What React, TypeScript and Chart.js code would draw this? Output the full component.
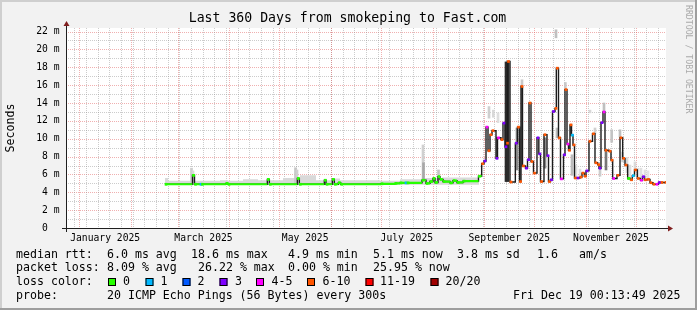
import React, { useEffect, useRef } from 'react';
import { Chart, registerables } from 'chart.js';

Chart.register(...registerables);

// ---------- data ----------
const START = Date.UTC(2024, 11, 24, 0, 13, 49);
const DAY = 86400000;
const SPAN_DAYS = 360;
const Y_MAX = 22.4;

const lossColors = ['#26ff00', '#00b8ff', '#0059ff', '#7e00ff', '#ff00ff', '#ff5500', '#ff0000', '#a10000'];
const lossLabels = ['0', '1', '2', '3', '4-5', '6-10', '11-19', '20/20'];

// median RTT (days since graph start, milliseconds, loss bucket index)
const medianDay = [
  59.4, 75.9, 77.1, 80.4, 81.3, 96, 97.2, 120.8, 122, 138.8, 140, 155, 156, 159.8, 161, 163.4, 164.8,
  189, 197.4, 200.4, 203.4, 204.6, 213.6, 216, 218.4, 220.2, 221.4, 223.2, 224.4, 226.2, 230.4, 232.2,
  234.6, 238.2, 247.5,
  249.4, 250.8, 252, 253.2, 254.4, 255.6, 258, 258.9, 261, 262.2, 263.4, 264.3, 264.9, 266.4, 269.6,
  270.9, 272.1, 273, 273.9, 275.7, 276.9, 277.8, 279, 280.5, 282.6, 283.7, 284.7, 286.8, 288.6, 289.5,
  290.7, 291.9, 293.4, 294.2, 295.5, 296.7, 298.5, 299.4, 300.6, 301.5, 302.4, 303.3, 304.2, 305.1,
  306.6, 308.4, 309.6, 311, 312, 313.8, 315.9, 317.4, 319, 319.8, 321, 322.2, 323.4, 325.8, 327, 328,
  330.6, 332.4, 334, 335.4, 337, 338.7, 339.8, 341.1, 342.8, 344.7, 345.9, 347.1, 348.9, 350.4, 352.2,
  354, 355.5, 357, 359.4,
];
const medianMs = [
  4.9, 5.9, 4.9, 4.9, 4.9, 5.0, 4.9, 5.45, 4.9, 5.55, 4.9, 5.35, 4.9, 5.45, 4.9, 5.07, 4.9,
  4.95, 5.0, 5.05, 5.05, 5.05, 5.35, 5.0, 5.2, 5.55, 5.1, 5.75, 5.45, 5.2, 5.05, 5.3,
  5.1, 5.25, 5.8,
  7.2, 7.5, 11.3, 8.65, 10.45, 10.9, 7.8, 10.1, 9.9, 11.75, 9.1, 9.5, 18.65, 5.15, 9.5,
  11.3, 5.2, 15.85, 6.95, 6.7, 7.65, 14.0, 7.45, 6.15, 10.1, 8.3, 5.2, 10.45, 8.1, 5.2,
  5.4, 13.05, 13.4, 17.9, 10.1, 5.5, 8.2, 15.5, 9.4, 8.7, 11.55, 10.4, 9.3, 5.6,
  5.6, 5.7, 6.15, 5.8, 6.4, 9.7, 10.55, 7.3, 7.1, 6.7, 11.8, 13.0, 8.7, 8.6, 7.6, 5.55,
  5.9, 10.1, 7.8, 7.05, 5.55, 5.4, 5.85, 6.5, 5.55, 5.35, 5.75, 5.4, 5.45, 5.07, 4.9,
  4.9, 5.1, 5.1, 5.1,
];
const medianLoss = [
  0, 0, 0, 1, 0, 0, 0, 0, 0, 0, 0, 0, 0, 0, 0, 0, 0,
  0, 0, 0, 1, 0, 0, 0, 0, 0, 0, 0, 0, 0, 0, 0,
  0, 0, 0,
  5, 3, 4, 5, 5, 5, 3, 4, 5, 3, 3, 5, 5, 5, 3,
  5, 5, 5, 5, 3, 3, 5, 5, 5, 3, 3, 5, 5, 3, 5,
  3, 3, 5, 5, 5, 4, 3, 5, 4, 5, 5, 1, 5, 5,
  3, 5, 5, 5, 3, 5, 5, 5, 5, 3, 3, 4, 5, 5, 5, 4,
  5, 5, 5, 5, 0, 5, 1, 5, 5, 4, 3, 5, 5, 5, 5,
  4, 3, 5, 5,
];

// light smoke band above the quiet period
const bandFloor = 4.85;
const bandDay = [59.4, 61.2, 92.4, 97.2, 106.2, 115.2, 130.2, 137.4, 140.4, 150, 159.6, 164.4, 188.4, 200.4, 215.4, 225.6, 247.8];
const bandHigh = [5.6, 5.3, 5.35, 5.3, 5.45, 5.35, 5.6, 5.4, 5.9, 5.35, 5.55, 5.35, 5.3, 5.45, 5.6, 5.65, 5.65];

// smoke spikes (day, low ms, high ms, grey shade)
const smokeDay = [
  75.3, 76.2, 137.7, 138.6, 214.2, 214.5, 223.5,
  253.8, 256.4, 259.2, 264.0, 265.2, 270.6, 273.6, 287.4, 294.0, 294.6, 299.6, 303.6, 306, 308.4,
  314.4, 317.4, 320.4, 322.8, 324, 327.4, 332.4, 334, 336.6, 338.4, 341.4, 343.2, 345, 347.4, 349.2,
];
const smokeLow = [
  5.0, 5.0, 5.0, 5.0, 5.3, 5.3, 5.4,
  12.3, 12.4, 11.8, 5.2, 5.2, 6.5, 16.0, 6.7, 21.3, 10.1, 15.5, 5.9, 5.7, 5.7,
  12.9, 10.6, 5.8, 13.0, 6.5, 9.6, 10.2, 7.4, 6.2, 5.6, 6.5, 5.6, 5.6, 5.6, 5.5,
];
const smokeHigh = [
  6.7, 6.4, 6.75, 6.5, 9.3, 7.3, 6.5,
  13.6, 13.2, 12.9, 18.6, 18.6, 11.2, 16.6, 10.1, 22.2, 11.2, 16.3, 8.2, 7.0, 6.6,
  13.2, 11.2, 6.9, 14.0, 8.7, 11.0, 11.0, 8.5, 7.9, 7.05, 7.4, 6.7, 6.7, 6.5, 6.4,
];
const smokeGrey = [
  '#cdcdcd', '#d8d8d8', '#c6c6c6', '#cfcfcf', '#d0d0d0', '#a8a8a8', '#c4c4c4',
  '#cfcfcf', '#d8d8d8', '#dedede', '#2b2b2b', '#2b2b2b', '#8a8a8a', '#c8c8c8', '#8c8c8c', '#c0c0c0', '#bdbdbd', '#c8c8c8', '#bcbcbc', '#dddddd', '#e0e0e0',
  '#d8d8d8', '#d0d0d0', '#cccccc', '#c0c0c0', '#777777', '#c4c4c4', '#c0c0c0', '#cccccc', '#dadada', '#dedede', '#dadada', '#e0e0e0', '#e0e0e0', '#e0e0e0', '#e4e4e4',
];

const yTickValues = [0, 2, 4, 6, 8, 10, 12, 14, 16, 18, 20, 22];
const yTickLabels = ['0  ', '2 m', '4 m', '6 m', '8 m', '10 m', '12 m', '14 m', '16 m', '18 m', '20 m', '22 m'];
const xLabelMonths = [0, 2, 4, 6, 8, 10];
const xLabels = ['January 2025', 'March 2025', 'May 2025', 'July 2025', 'September 2025', 'November 2025'];

const title = 'Last 360 Days from smokeping to Fast.com';
const yTitle = 'Seconds';
const watermark = 'RRDTOOL / TOBI OETIKER';

const legendRows: [string, number][][] = [
  [['median rtt:', 16], ['6.0 ms avg', 107], ['18.6 ms max', 191], ['4.9 ms min', 288], ['5.1 ms now', 373], ['3.8 ms sd', 457], ['1.6', 537], ['am/s', 579]],
  [['packet loss:', 16], ['8.09 % avg', 107], ['26.22 % max', 198], ['0.00 % min', 288], ['25.95 % now', 373]],
  [['loss color:', 16]],
  [['probe:', 16], ['20 ICMP Echo Pings (56 Bytes) every 300s', 107], ['Fri Dec 19 00:13:49 2025', 513]],
];
const legendRowY = [254.5, 268, 282, 296];
const lossBoxX = [108, 145.5, 182.5, 219.5, 256, 307, 365.5, 430.5];
const lossTextX = [123, 160.5, 197.5, 235, 271.5, 322.5, 380, 445.5];

// ---------- helpers ----------
const dayOf = (ms: number) => (ms - START) / DAY;
const monthStartDays: number[] = [];
for (let m = 0; m < 12; m++) monthStartDays.push(dayOf(Date.UTC(2025, m, 1)));
const weekDays: number[] = [];
for (let d = dayOf(Date.UTC(2024, 11, 29)); d < SPAN_DAYS; d += 7) weekDays.push(d);
const xLabelDays = xLabelMonths.map((m) => (dayOf(Date.UTC(2025, m, 1)) + dayOf(Date.UTC(2025, m + 1, 1))) / 2);

// horizontal pieces of the median drawn in the loss-0/1 colour
const quietPieces: { x: number; y: number | null }[] = [];
for (let i = 0; i < medianDay.length - 1; i++) {
  if (medianLoss[i] < 2) {
    quietPieces.push({ x: medianDay[i], y: medianMs[i] });
    quietPieces.push({ x: medianDay[i + 1], y: medianMs[i] });
    quietPieces.push({ x: medianDay[i + 1], y: null });
  }
}

const MONO = '"DejaVu Sans Mono", "Liberation Mono", monospace';

const App = () => {
  const ref = useRef<HTMLCanvasElement>(null);

  useEffect(() => {
    const canvas = ref.current;
    if (!canvas) return;

    const backgroundPlugin = {
      id: 'rrdBackground',
      beforeDraw(chart: any) {
        const { ctx, chartArea: a, scales } = chart;
        const W = chart.width;
        const H = chart.height;
        ctx.save();
        ctx.fillStyle = '#f2f2f2';
        ctx.fillRect(0, 0, W, H);
        ctx.fillStyle = '#cfcfcf';
        ctx.fillRect(0, 0, W, 2);
        ctx.fillRect(0, 0, 2, H);
        ctx.fillStyle = '#9e9e9e';
        ctx.fillRect(0, H - 2, W, 2);
        ctx.fillRect(W - 2, 0, 2, H);
        ctx.fillStyle = '#ffffff';
        ctx.fillRect(a.left, a.top, a.right - a.left, a.bottom - a.top);

        ctx.lineWidth = 1;
        ctx.setLineDash([1, 1]);
        for (let v = 1; v <= 22; v++) {
          const y = Math.round(scales.y.getPixelForValue(v)) + 0.5;
          ctx.strokeStyle = v % 2 === 0 ? 'rgba(222,79,79,0.45)' : 'rgba(143,143,143,0.45)';
          ctx.beginPath();
          ctx.moveTo(a.left, y);
          ctx.lineTo(a.right, y);
          ctx.stroke();
        }
        ctx.strokeStyle = 'rgba(143,143,143,0.45)';
        for (const d of weekDays) {
          const x = Math.round(scales.x.getPixelForValue(d)) + 0.5;
          ctx.beginPath();
          ctx.moveTo(x, a.top);
          ctx.lineTo(x, a.bottom);
          ctx.stroke();
        }
        ctx.strokeStyle = 'rgba(222,79,79,0.45)';
        for (const d of monthStartDays) {
          const x = Math.round(scales.x.getPixelForValue(d)) + 0.5;
          ctx.beginPath();
          ctx.moveTo(x, a.top);
          ctx.lineTo(x, a.bottom);
          ctx.stroke();
        }
        ctx.restore();
      },
    };

    const overlayPlugin = {
      id: 'rrdOverlay',
      afterDraw(chart: any) {
        const { ctx, chartArea: a, scales } = chart;
        ctx.save();
        ctx.strokeStyle = '#1f1f1f';
        ctx.lineWidth = 1;
        ctx.setLineDash([]);
        ctx.beginPath();
        ctx.moveTo(a.left + 0.5, a.bottom + 4);
        ctx.lineTo(a.left + 0.5, a.top - 4);
        ctx.moveTo(a.left - 4, a.bottom + 0.5);
        ctx.lineTo(a.right + 4, a.bottom + 0.5);
        ctx.stroke();
        ctx.fillStyle = '#801f1f';
        ctx.beginPath();
        ctx.moveTo(a.left - 2.5, a.top - 2);
        ctx.lineTo(a.left + 3.5, a.top - 2);
        ctx.lineTo(a.left + 0.5, a.top - 7);
        ctx.closePath();
        ctx.fill();
        ctx.beginPath();
        ctx.moveTo(a.right + 2, a.bottom - 2.5);
        ctx.lineTo(a.right + 2, a.bottom + 3.5);
        ctx.lineTo(a.right + 7, a.bottom + 0.5);
        ctx.closePath();
        ctx.fill();

        ctx.fillStyle = '#000000';
        ctx.textBaseline = 'middle';
        ctx.font = `9.7px ${MONO}`;
        ctx.textAlign = 'right';
        yTickValues.forEach((v, i) => {
          ctx.fillText(yTickLabels[i], a.left - 6.5, scales.y.getPixelForValue(v));
        });
        ctx.textAlign = 'center';
        xLabelDays.forEach((d, i) => {
          ctx.fillText(xLabels[i], scales.x.getPixelForValue(d), a.bottom + 10);
        });
        ctx.font = `13.2px ${MONO}`;
        ctx.fillText(title, 347.5, 19);
        ctx.font = `11.6px ${MONO}`;
        ctx.save();
        ctx.translate(11, (a.top + a.bottom) / 2);
        ctx.rotate(-Math.PI / 2);
        ctx.fillText(yTitle, 0, 0);
        ctx.restore();
        ctx.save();
        ctx.fillStyle = '#aaaaaa';
        ctx.font = `8.2px ${MONO}`;
        ctx.translate(688.5, 5);
        ctx.rotate(Math.PI / 2);
        ctx.textAlign = 'left';
        ctx.fillText(watermark, 0, 0);
        ctx.restore();
        ctx.font = `11.6px ${MONO}`;
        ctx.textAlign = 'left';
        legendRows.forEach((row, r) => {
          row.forEach(([t, x]) => ctx.fillText(t, x, legendRowY[r]));
        });
        lossColors.forEach((c, i) => {
          const y = legendRowY[2];
          ctx.fillStyle = c;
          ctx.fillRect(lossBoxX[i], y - 4, 8, 8);
          ctx.strokeStyle = '#000000';
          ctx.lineWidth = 1;
          ctx.strokeRect(lossBoxX[i] + 0.5, y - 4 + 0.5, 7, 7);
          ctx.fillStyle = '#000000';
          ctx.fillText(lossLabels[i], lossTextX[i], y);
        });
        ctx.restore();
      },
    };

    const chart = new Chart(canvas, {
      type: 'line',
      data: {
        datasets: [
          {
            type: 'line',
            label: 'smoke band',
            data: bandDay.map((d, i) => ({ x: d, y: bandHigh[i] })),
            stepped: true,
            borderWidth: 0,
            borderColor: 'rgba(0,0,0,0)',
            pointRadius: 0,
            fill: { value: bandFloor },
            backgroundColor: '#d9d9d9',
            order: 5,
          },
          {
            type: 'bar',
            label: 'smoke',
            data: smokeDay.map((d, i) => ({ x: d, y: [smokeLow[i], smokeHigh[i]] })),
            backgroundColor: smokeGrey,
            borderWidth: 0,
            barThickness: 2,
            grouped: false,
            order: 4,
          },
          {
            type: 'line',
            label: 'median rtt',
            data: medianDay.map((d, i) => ({ x: d, y: medianMs[i] })),
            stepped: true,
            fill: false,
            pointRadius: 0,
            borderColor: '#1c1c1c',
            borderWidth: 1.4,
            order: 3,
          },
          {
            type: 'line',
            label: 'median rtt, no loss',
            data: quietPieces,
            spanGaps: false,
            fill: false,
            pointRadius: 0,
            borderColor: lossColors[0],
            borderWidth: 2.2,
            borderCapStyle: 'butt',
            order: 2,
          },
          {
            type: 'line',
            label: 'loss',
            data: medianDay.map((d, i) => ({ x: d + 0.6, y: medianMs[i] })),
            showLine: false,
            pointStyle: 'rect',
            pointRadius: 1.9,
            pointBorderWidth: 0,
            pointBackgroundColor: medianLoss.map((l) => lossColors[l]),
            order: 1,
          },
        ],
      } as any,
      options: {
        responsive: false,
        animation: false,
        events: [],
        layout: { padding: { left: 66, right: 31, top: 28, bottom: 82 } },
        scales: {
          x: { type: 'linear', min: 0, max: SPAN_DAYS, display: false, offset: false },
          y: { type: 'linear', min: 0, max: Y_MAX, display: false },
        },
        plugins: {
          legend: { display: false },
          tooltip: { enabled: false },
        },
      } as any,
      plugins: [backgroundPlugin, overlayPlugin],
    });

    return () => chart.destroy();
  }, []);

  return (
    <div style={{ position: 'absolute', left: 0, top: 0, width: 697, height: 310 }}>
      <canvas ref={ref} width={697} height={310} style={{ display: 'block' }} />
    </div>
  );
};

export default App;
